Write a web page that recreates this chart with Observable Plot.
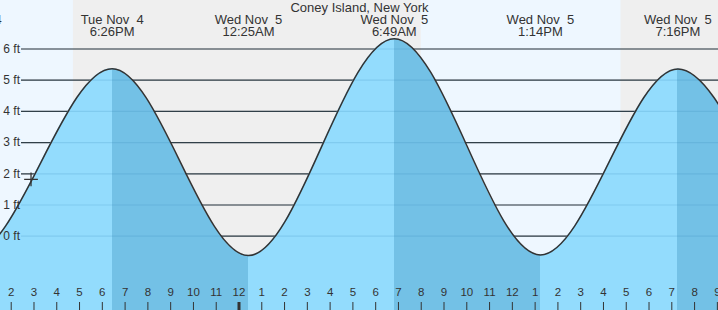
<!DOCTYPE html>
<html>
<head>
<meta charset="utf-8">
<script src="https://cdn.jsdelivr.net/npm/d3@7"></script>
<script src="https://cdn.jsdelivr.net/npm/@observablehq/plot@0.6"></script>
<style>
  html, body { margin: 0; padding: 0; background: #fff; }
  svg text { white-space: pre; }
</style>
</head>
<body>
<div id="chart"></div>
<script>
// ---- data (times in hours since Tue Nov 4 00:00) ----
const title = "Coney Island, New York";
const tideTimes   = [5.95, 12.2, 18.433, 24.417, 30.817, 37.233, 43.267, 49.6, 55.9];
const tideHeights = [6.2, -0.6, 5.37, -0.62, 6.33, -0.6, 5.36, -0.5, 6.1];
const tideDays    = ["Tue Nov  4", "Tue Nov  4", "Tue Nov  4", "Wed Nov  5", "Wed Nov  5", "Wed Nov  5", "Wed Nov  5", "Thu Nov  6", "Thu Nov  6"];
const tideClock   = ["5:57AM", "12:12PM", "6:26PM", "12:25AM", "6:49AM", "1:14PM", "7:16PM", "1:36AM", "7:54AM"];

const nightStarts = [16.73, 40.77];
const nightEnds   = [32.0, 47.0];

const tickHours  = [14,15,16,17,18,19,20,21,22,23,24,25,26,27,28,29,30,31,32,33,34,35,36,37,38,39,40,41,42,43,44,45];
const tickLabels = ["2","3","4","5","6","7","8","9","10","11","12","1","2","3","4","5","6","7","8","9","10","11","12","1","2","3","4","5","6","7","8","9"];
const midnightHours = [24];

const feet = [0, 1, 2, 3, 4, 5, 6];
const feetLabels = ["0 ft", "1 ft", "2 ft", "3 ft", "4 ft", "5 ft", "6 ft"];

const nowTime = [14.87];
const nowHeight = [1.82];

// ---- layout ----
const W = 718, H = 310;
const xDomain = [13.53, 45.05];
const yDomain = [-2.381, 7.554];

const tides = tideTimes.map((t, i) => ({t, h: tideHeights[i], label: tideDays[i] + "\n" + tideClock[i]}));
const nights = nightStarts.map((s, i) => ({s, e: nightEnds[i]}));
const ticks = tickHours.map((t, i) => ({t, label: tickLabels[i]}));
const grid = feet.map((f, i) => ({f, label: feetLabels[i]}));
const now = nowTime.map((t, i) => ({t, h: nowHeight[i]}));

const ink = "#333";
const light = "#93dcfd", dark = "#73c1e6";

const svg = Plot.plot({
  width: W,
  height: H,
  margin: 0,
  x: {domain: xDomain, range: [0, W], axis: null},
  y: {domain: yDomain, range: [H, 0], axis: null},
  style: {fontFamily: "Arial, 'Liberation Sans', sans-serif", fontSize: "12px", color: ink, background: "#eef7ff"},
  marks: [
    // night bands
    Plot.rectX(nights, {x1: "s", x2: "e", y1: yDomain[0], y2: yDomain[1], fill: "#efefef", clip: true}),
    // dark gridlines
    Plot.ruleY(grid, {y: "f", stroke: ink, strokeWidth: 1.2, insetLeft: 21}),
    // water fill
    Plot.areaY(tides, {x: "t", y1: () => yDomain[0], y2: "h", curve: "monotone-x", fill: light, clip: true}),
    // subtle gridlines seen through water
    Plot.ruleY(grid, {y: "f", stroke: "#2a7fb0", strokeOpacity: 0.18, strokeWidth: 1.2, insetLeft: 21}),
    // tide curve
    Plot.line(tides, {x: "t", y: "h", curve: "monotone-x", stroke: ink, strokeWidth: 1.5, clip: true}),
    // y labels
    Plot.text(grid, {y: "f", text: "label", frameAnchor: "left", dx: 19.5, textAnchor: "end", fill: ink, fontSize: 12}),
    // hour ticks
    Plot.ruleX(ticks, {x: "t", insetTop: 302, stroke: ink, strokeWidth: 1}),
    Plot.ruleX(midnightHours, {x: d => d, insetTop: 302, stroke: ink, strokeWidth: 3}),
    Plot.text(ticks, {x: "t", text: "label", frameAnchor: "bottom", dy: -14.5, fill: ink, fontSize: 11.5}),
    // tide labels
    Plot.text(tides, {x: "t", text: "label", frameAnchor: "top", lineAnchor: "top", dy: 14.8, lineHeight: 0.93, fill: ink, fontSize: 13}),
    // title
    Plot.text([title], {text: d => d, frameAnchor: "top", lineAnchor: "top", dy: 2.2, fill: ink, fontSize: 13}),
    // current position marker
    Plot.dot(now, {x: "t", y: "h", symbol: "plus", r: 4.5, stroke: ink, strokeWidth: 1.3})
  ]
});

// colour the falling-tide stretches of the water darker
const xs = svg.scale("x");
const root = d3.select(svg);
const defs = root.insert("defs", ":first-child");
const grad = defs.append("linearGradient")
  .attr("id", "tideFill").attr("gradientUnits", "userSpaceOnUse")
  .attr("x1", 0).attr("x2", W).attr("y1", 0).attr("y2", 0);
const clamp = v => Math.max(0, Math.min(1, v));
grad.append("stop").attr("offset", 0).attr("stop-color", light);
for (let i = 0; i < tides.length - 1; i++) {
  if (tides[i].h > tides[i + 1].h) {
    const a = clamp(xs.apply(tides[i].t) / W), b = clamp(xs.apply(tides[i + 1].t) / W);
    grad.append("stop").attr("offset", a).attr("stop-color", light);
    grad.append("stop").attr("offset", a).attr("stop-color", dark);
    grad.append("stop").attr("offset", b).attr("stop-color", dark);
    grad.append("stop").attr("offset", b).attr("stop-color", light);
  }
}
grad.append("stop").attr("offset", 1).attr("stop-color", light);
root.selectAll("*").each(function() {
  const f = this.getAttribute && this.getAttribute("fill");
  if (f && f.toLowerCase() === light) this.setAttribute("fill", "url(#tideFill)");
});

document.getElementById("chart").appendChild(svg);
</script>
</body>
</html>
